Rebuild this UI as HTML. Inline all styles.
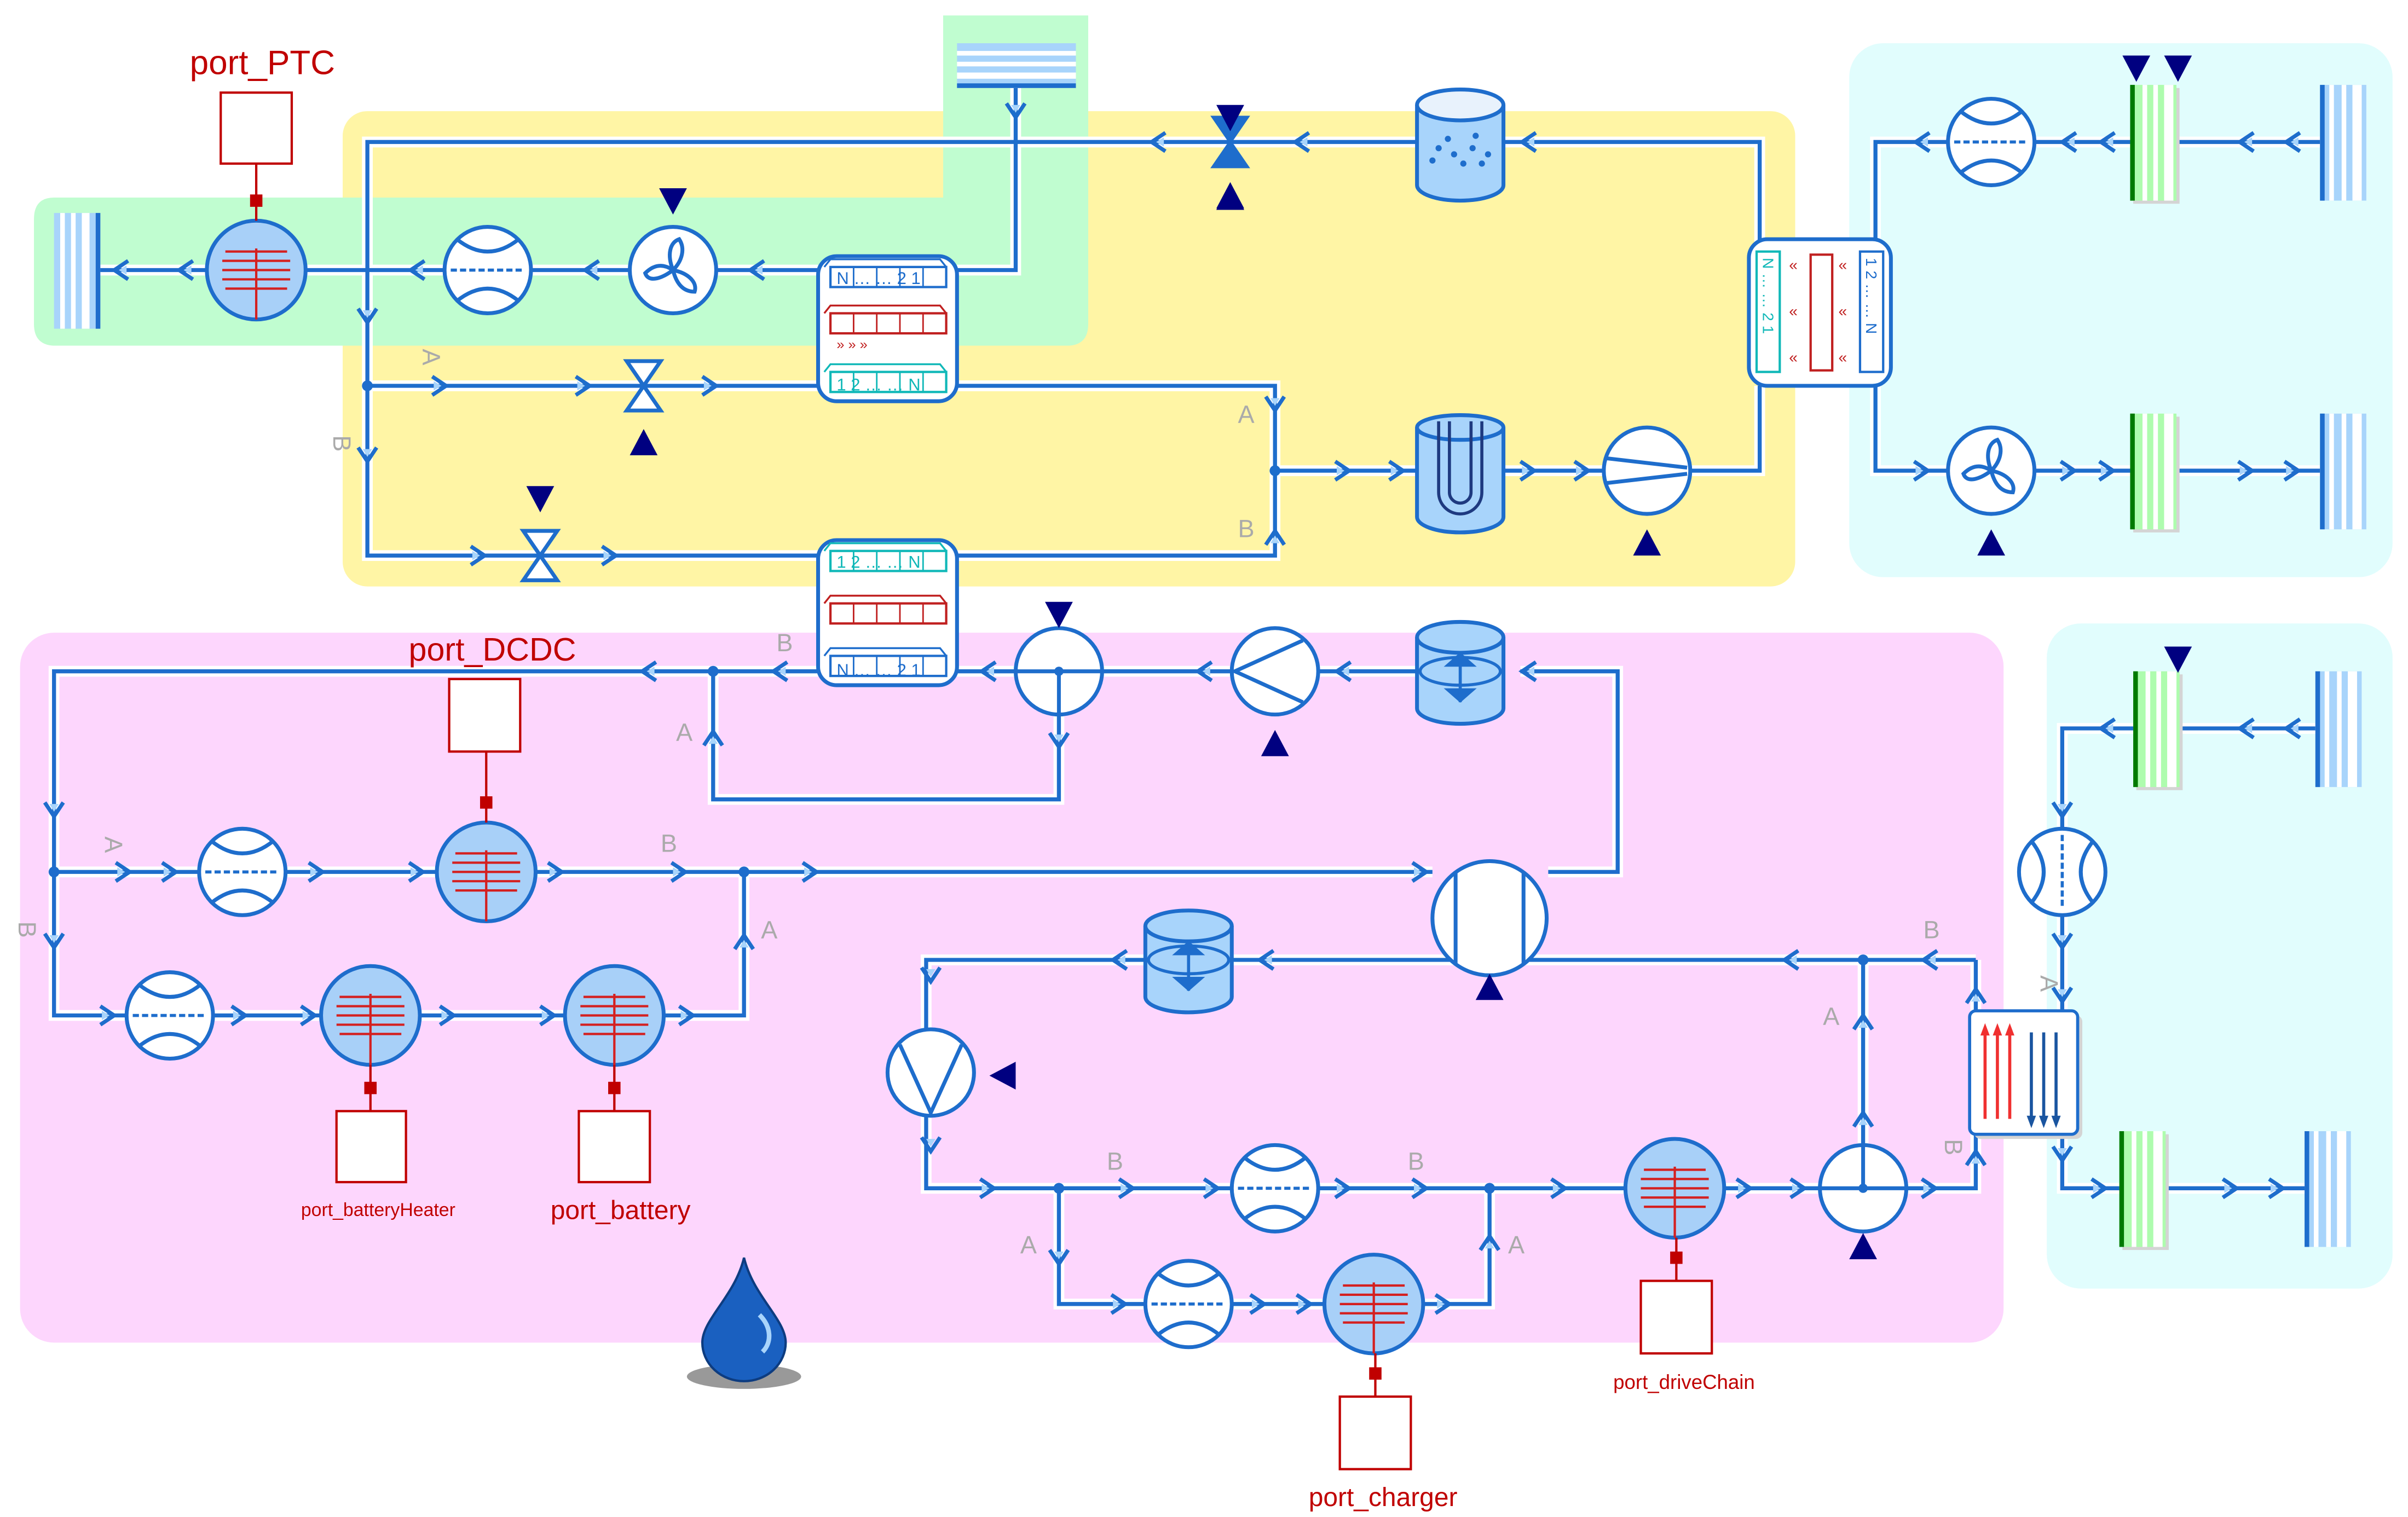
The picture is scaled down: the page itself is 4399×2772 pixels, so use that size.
<!DOCTYPE html>
<html><head><meta charset="utf-8"><style>
html,body{margin:0;padding:0;background:#fff}
svg{display:block}
text{font-family:"Liberation Sans",sans-serif}
.lab{fill:#aaa;font-size:16px}
.port{fill:#c00000}
</style></head><body>
<svg width="4399" height="2772" viewBox="0 0 1560 983" xmlns="http://www.w3.org/2000/svg">
<defs>
<g id="pipes" fill="none">
<path d="M1140,160 V92 H238 V360 H530"/>
<path d="M238,250 H530"/>
<path d="M620,250 H826 V360 H620"/>
<path d="M826,305 H1140 V250"/>
<path d="M530,175 H40"/>
<path d="M620,175 H658 V57"/>
<path d="M1215,160 V92 H1503"/>
<path d="M1215,250 V305 H1503"/>
<path d="M985,435 H1048 V565 H1003"/>
<path d="M928,565 H35 V658 H482 V565"/>
<path d="M530,435 H35 V565"/>
<path d="M462,435 V518 H686 V435"/>
<path d="M918,435 H620"/>
<path d="M1280,622 H600 V770 H1280 V735"/>
<path d="M686,770 V845 H965 V770"/>
<path d="M1207,770 V622"/>
<path d="M1280,622 V655"/>
<path d="M1500,472 H1336 V655"/>
<path d="M1336,735 V770 H1493"/>
</g>
<g id="ch"><path d="M-5,-6 L4,0 L-5,6" fill="none" stroke="#1e6dcc" stroke-width="2.5"/><path d="M-4,-3 L1,0 L-4,3" fill="#a8d4fb"/></g>
<g id="sensor"><circle r="28" fill="#fff" stroke="#1e6dcc" stroke-width="2.5"/><path d="M-20,-20 Q0,-4 20,-20 M-20,20 Q0,4 20,20" fill="none" stroke="#1e6dcc" stroke-width="2.5"/><line x1="-24" x2="24" stroke="#1e6dcc" stroke-width="2" stroke-dasharray="4,2"/></g>
<g id="heater"><circle r="32" fill="#a8d0f8" stroke="#1e6dcc" stroke-width="2.5"/><g stroke="#d42020" stroke-width="1.5"><line x1="-20" x2="20" y1="-12" y2="-12"/><line x1="-22" x2="22" y1="-6" y2="-6"/><line x1="-22" x2="22" y1="0" y2="0"/><line x1="-22" x2="22" y1="6" y2="6"/><line x1="-20" x2="20" y1="12" y2="12"/><line x1="0" x2="0" y1="-14" y2="32"/></g></g>
<g id="fan"><circle r="28" fill="#fff" stroke="#1e6dcc" stroke-width="2.5"/><g fill="none" stroke="#1e6dcc" stroke-width="2.5"><path d="M0,0 C-4,-10 -2,-18 4,-20 C8,-14 6,-6 0,0"/><path d="M0,0 C10,2 16,8 14,14 C6,14 2,8 0,0"/><path d="M0,0 C-8,6 -16,8 -18,2 C-12,-4 -6,-4 0,0"/></g></g>
<g id="tri"><path d="M-9,8 L9,8 L0,-9 Z" fill="#000080"/></g>
<g id="valve"><path d="M-11,-16 L11,-16 L-11,16 L11,16 Z" fill="#fff" stroke="#1e6dcc" stroke-width="2.5"/></g>
<g id="bndB"><rect x="0" y="0" width="30" height="75" fill="#a8d4fb"/><rect x="6" width="3" height="75" fill="#fff"/><rect x="14" width="3" height="75" fill="#fff"/><rect x="21" width="6" height="75" fill="#fff"/><rect width="3" height="75" fill="#1e6dcc"/></g>
<g id="bndG"><rect x="2" y="2" width="30" height="75" fill="#d4d4d4"/><rect width="30" height="75" fill="#aefcae"/><rect x="8" width="3" height="75" fill="#fff"/><rect x="15" width="3" height="75" fill="#fff"/><rect x="22" width="6" height="75" fill="#fff"/><rect width="3" height="75" fill="#007a00"/></g>
<g id="cells"><path d="M0,5 L4,0 H75 L79,5" fill="none" stroke-width="1.2"/><rect x="4" y="5" width="75" height="13" fill="#fff" stroke-width="1.5"/><path d="M19,5 V18 M34,5 V18 M49,5 V18 M64,5 V18"/></g>
</defs>

<!-- backgrounds -->
<rect x="222" y="72" width="941" height="308" rx="16" fill="#fff5a5"/>
<path d="M35,128 H611 V10 H705 V210 Q705,224 691,224 H36 Q22,224 22,210 V142 Q22,128 35,128Z" fill="#c0fdd0"/>
<rect x="1198" y="28" width="352" height="346" rx="22" fill="#e1fdfd"/>
<rect x="13" y="410" width="1285" height="460" rx="22" fill="#fdd6fd"/>
<rect x="1326" y="404" width="224" height="431" rx="22" fill="#e1fdfd"/>

<use href="#pipes" stroke="#fff" stroke-width="7"/>
<use href="#pipes" stroke="#1e6dcc" stroke-width="2.6"/>

<!-- junction dots -->
<g fill="#1e6dcc"><circle cx="238" cy="250" r="3.5"/><circle cx="826" cy="305" r="3.5"/><circle cx="462" cy="435" r="3.5"/><circle cx="35" cy="565" r="3.5"/><circle cx="482" cy="565" r="3.5"/><circle cx="686" cy="770" r="3.5"/><circle cx="965" cy="770" r="3.5"/><circle cx="1207" cy="622" r="3.5"/></g>

<!-- chevrons -->
<use href="#ch" transform="translate(990,92) rotate(180)"/>
<use href="#ch" transform="translate(843,92) rotate(180)"/>
<use href="#ch" transform="translate(750,92) rotate(180)"/>
<use href="#ch" transform="translate(658,72) rotate(90)"/>
<use href="#ch" transform="translate(238,205) rotate(90)"/>
<use href="#ch" transform="translate(238,295) rotate(90)"/>
<use href="#ch" transform="translate(285,250)"/>
<use href="#ch" transform="translate(378,250)"/>
<use href="#ch" transform="translate(460,250)"/>
<use href="#ch" transform="translate(310,360)"/>
<use href="#ch" transform="translate(395,360)"/>
<use href="#ch" transform="translate(826,262) rotate(90)"/>
<use href="#ch" transform="translate(826,348) rotate(-90)"/>
<use href="#ch" transform="translate(870,305)"/>
<use href="#ch" transform="translate(905,305)"/>
<use href="#ch" transform="translate(990,305)"/>
<use href="#ch" transform="translate(1025,305)"/>
<use href="#ch" transform="translate(490,175) rotate(180)"/>
<use href="#ch" transform="translate(383,175) rotate(180)"/>
<use href="#ch" transform="translate(270,175) rotate(180)"/>
<use href="#ch" transform="translate(120,175) rotate(180)"/>
<use href="#ch" transform="translate(78,175) rotate(180)"/>
<use href="#ch" transform="translate(1245,92) rotate(180)"/>
<use href="#ch" transform="translate(1340,92) rotate(180)"/>
<use href="#ch" transform="translate(1365,92) rotate(180)"/>
<use href="#ch" transform="translate(1455,92) rotate(180)"/>
<use href="#ch" transform="translate(1485,92) rotate(180)"/>
<use href="#ch" transform="translate(1245,305)"/>
<use href="#ch" transform="translate(1340,305)"/>
<use href="#ch" transform="translate(1365,305)"/>
<use href="#ch" transform="translate(1455,305)"/>
<use href="#ch" transform="translate(1485,305)"/>
<use href="#ch" transform="translate(990,435) rotate(180)"/>
<use href="#ch" transform="translate(870,435) rotate(180)"/>
<use href="#ch" transform="translate(780,435) rotate(180)"/>
<use href="#ch" transform="translate(640,435) rotate(180)"/>
<use href="#ch" transform="translate(505,435) rotate(180)"/>
<use href="#ch" transform="translate(420,435) rotate(180)"/>
<use href="#ch" transform="translate(686,480) rotate(90)"/>
<use href="#ch" transform="translate(462,478) rotate(-90)"/>
<use href="#ch" transform="translate(35,525) rotate(90)"/>
<use href="#ch" transform="translate(35,610) rotate(90)"/>
<use href="#ch" transform="translate(80,565)"/>
<use href="#ch" transform="translate(110,565)"/>
<use href="#ch" transform="translate(205,565)"/>
<use href="#ch" transform="translate(270,565)"/>
<use href="#ch" transform="translate(360,565)"/>
<use href="#ch" transform="translate(440,565)"/>
<use href="#ch" transform="translate(525,565)"/>
<use href="#ch" transform="translate(920,565)"/>
<use href="#ch" transform="translate(70,658)"/>
<use href="#ch" transform="translate(155,658)"/>
<use href="#ch" transform="translate(200,658)"/>
<use href="#ch" transform="translate(290,658)"/>
<use href="#ch" transform="translate(355,658)"/>
<use href="#ch" transform="translate(445,658)"/>
<use href="#ch" transform="translate(482,610) rotate(-90)"/>
<use href="#ch" transform="translate(1160,622) rotate(180)"/>
<use href="#ch" transform="translate(1250,622) rotate(180)"/>
<use href="#ch" transform="translate(820,622) rotate(180)"/>
<use href="#ch" transform="translate(725,622) rotate(180)"/>
<use href="#ch" transform="translate(603,632) rotate(90)"/>
<use href="#ch" transform="translate(603,742) rotate(90)"/>
<use href="#ch" transform="translate(640,770)"/>
<use href="#ch" transform="translate(730,770)"/>
<use href="#ch" transform="translate(785,770)"/>
<use href="#ch" transform="translate(870,770)"/>
<use href="#ch" transform="translate(920,770)"/>
<use href="#ch" transform="translate(1010,770)"/>
<use href="#ch" transform="translate(1130,770)"/>
<use href="#ch" transform="translate(1165,770)"/>
<use href="#ch" transform="translate(1250,770)"/>
<use href="#ch" transform="translate(686,815) rotate(90)"/>
<use href="#ch" transform="translate(725,845)"/>
<use href="#ch" transform="translate(815,845)"/>
<use href="#ch" transform="translate(845,845)"/>
<use href="#ch" transform="translate(935,845)"/>
<use href="#ch" transform="translate(965,805) rotate(-90)"/>
<use href="#ch" transform="translate(1207,725) rotate(-90)"/>
<use href="#ch" transform="translate(1207,662) rotate(-90)"/>
<use href="#ch" transform="translate(1280,645) rotate(-90)"/>
<use href="#ch" transform="translate(1280,750) rotate(-90)"/>
<use href="#ch" transform="translate(1485,472) rotate(180)"/>
<use href="#ch" transform="translate(1455,472) rotate(180)"/>
<use href="#ch" transform="translate(1365,472) rotate(180)"/>
<use href="#ch" transform="translate(1336,525) rotate(90)"/>
<use href="#ch" transform="translate(1336,610) rotate(90)"/>
<use href="#ch" transform="translate(1336,645) rotate(90)"/>
<use href="#ch" transform="translate(1336,748) rotate(90)"/>
<use href="#ch" transform="translate(1360,770)"/>
<use href="#ch" transform="translate(1445,770)"/>
<use href="#ch" transform="translate(1475,770)"/>

<!-- labels A/B -->
<text class="lab" x="272" y="236" transform="rotate(90 278 232)">A</text>
<text class="lab" x="214" y="292" transform="rotate(90 220 288)">B</text>
<text class="lab" x="802" y="274">A</text>
<text class="lab" x="802" y="348">B</text>
<text class="lab" x="503" y="422">B</text>
<text class="lab" x="438" y="480">A</text>
<text class="lab" x="66" y="552" transform="rotate(90 72 548)">A</text>
<text class="lab" x="10" y="607" transform="rotate(90 16 603)">B</text>
<text class="lab" x="428" y="552">B</text>
<text class="lab" x="493" y="608">A</text>
<text class="lab" x="1246" y="608">B</text>
<text class="lab" x="1181" y="664">A</text>
<text class="lab" x="717" y="758">B</text>
<text class="lab" x="912" y="758">B</text>
<text class="lab" x="661" y="812">A</text>
<text class="lab" x="977" y="812">A</text>
<text class="lab" x="1320" y="642" transform="rotate(90 1326 638)">A</text>
<text class="lab" x="1258" y="748" transform="rotate(90 1264 744)">B</text>

<!-- boundaries -->
<g transform="translate(35,138)"><rect width="30" height="75" fill="#a8d4fb"/><rect x="4" width="3" height="75" fill="#fff"/><rect x="11" width="3" height="75" fill="#fff"/><rect x="18" width="5" height="75" fill="#fff"/><rect x="27" width="3" height="75" fill="#1e6dcc"/></g>
<g transform="translate(620,28)"><rect width="77" height="29" fill="#a8d4fb"/><rect y="5" width="77" height="3" fill="#fff"/><rect y="12" width="77" height="3" fill="#fff"/><rect y="19" width="77" height="4" fill="#fff"/><rect y="26" width="77" height="3" fill="#1e6dcc"/></g>
<use href="#bndG" x="1380" y="55"/>
<use href="#bndB" x="1503" y="55"/>
<use href="#bndG" x="1380" y="268"/>
<use href="#bndB" x="1503" y="268"/>
<use href="#bndG" x="1382" y="435"/>
<use href="#bndB" x="1500" y="435"/>
<use href="#bndG" x="1373" y="733"/>
<use href="#bndB" x="1493" y="733"/>
<use href="#tri" transform="translate(1384,44) rotate(180)"/>
<use href="#tri" transform="translate(1411,44) rotate(180)"/>
<use href="#tri" transform="translate(1411,427) rotate(180)"/>

<!-- top components -->
<g transform="translate(946,92)"><path d="M-28,-24 V28 A28,10 0 0 0 28,28 V-24" fill="#a8d4fb" stroke="#1e6dcc" stroke-width="2.5"/><ellipse cy="-24" rx="28" ry="10" fill="#e8f2fc" stroke="#1e6dcc" stroke-width="2.5"/><g fill="#1e6dcc"><circle cx="-14" cy="4" r="2"/><circle cx="-4" cy="8" r="2"/><circle cx="8" cy="4" r="2"/><circle cx="18" cy="8" r="2"/><circle cx="-18" cy="12" r="2"/><circle cx="2" cy="14" r="2"/><circle cx="14" cy="14" r="2"/><circle cx="-8" cy="-2" r="2"/><circle cx="10" cy="-4" r="2"/></g></g>
<g transform="translate(797,92) rotate(90)"><path d="M-11,-16 L11,-16 L-11,16 L11,16 Z" transform="rotate(90)" fill="#1e6dcc" stroke="#1e6dcc" stroke-width="2"/></g>
<use href="#tri" transform="translate(797,128)"/>
<use href="#tri" transform="translate(797,128)"/>
<use href="#tri" transform="translate(797,128)"/>
<use href="#tri" transform="translate(797,127)"/>
<use href="#tri" transform="translate(797,76) rotate(180)"/>
<g transform="translate(417,250)"><path d="M-11,-16 L11,-16 L-11,16 L11,16 Z" fill="#fff" stroke="#1e6dcc" stroke-width="2.5"/></g>
<use href="#tri" transform="translate(417,287)"/>
<g transform="translate(350,360)"><path d="M-11,-16 L11,-16 L-11,16 L11,16 Z" fill="#fff" stroke="#1e6dcc" stroke-width="2.5"/></g>
<use href="#tri" transform="translate(350,323) rotate(180)"/>

<g transform="translate(946,307)"><path d="M-28,-30 V28 A28,10 0 0 0 28,28 V-30" fill="#a8d4fb" stroke="#1e6dcc" stroke-width="2.5"/><ellipse cy="-30" rx="28" ry="8" fill="#a8d4fb" stroke="#1e6dcc" stroke-width="2.5"/><path d="M-14,-34 V12 A14,14 0 0 0 14,12 V-34 M-7,-34 V12 A7,7 0 0 0 7,12 V-34" fill="none" stroke="#1e3a80" stroke-width="2"/></g>
<g transform="translate(1067,305)"><circle r="28" fill="#fff" stroke="#1e6dcc" stroke-width="2.5"/><path d="M-26,-8 L26,-2 M-26,8 L26,2" stroke="#1e6dcc" stroke-width="2.5" fill="none"/></g>
<use href="#tri" transform="translate(1067,352)"/>

<!-- HX top -->
<g transform="translate(530,166)"><rect width="90" height="94" rx="12" fill="#fff" stroke="#1e6dcc" stroke-width="2.5"/>
<g transform="translate(4,2)" stroke="#1e6dcc"><use href="#cells"/></g>
<text x="12" y="18" font-size="11" fill="#1e6dcc">N  …  …  2  1</text>
<text x="12" y="60" font-size="9" fill="#c02020">»   »   »</text>
<g transform="translate(4,32)" stroke="#c02020"><use href="#cells"/></g>
<g transform="translate(4,70)" stroke="#10b8b8"><use href="#cells"/></g>
<text x="12" y="87" font-size="11" fill="#10b8b8">1  2  …  …  N</text></g>
<g transform="translate(530,350)"><rect width="90" height="94" rx="12" fill="#fff" stroke="#1e6dcc" stroke-width="2.5"/>
<g transform="translate(4,2)" stroke="#10b8b8"><use href="#cells"/></g>
<text x="12" y="18" font-size="11" fill="#10b8b8">1  2  …  …  N</text>
<g transform="translate(4,36)" stroke="#c02020"><use href="#cells"/></g>
<g transform="translate(4,70)" stroke="#1e6dcc"><use href="#cells"/></g>
<text x="12" y="88" font-size="11" fill="#1e6dcc">N  …  …  2  1</text></g>
<g transform="translate(1133,155)"><rect width="92" height="95" rx="12" fill="#fff" stroke="#1e6dcc" stroke-width="2.5"/>
<rect x="5" y="8" width="15" height="78" fill="#fff" stroke="#10b8b8" stroke-width="1.5"/>
<rect x="40" y="10" width="14" height="75" fill="#fff" stroke="#c02020" stroke-width="1.5"/>
<rect x="72" y="8" width="15" height="78" fill="#fff" stroke="#1e6dcc" stroke-width="1.5"/>
<text font-size="10" fill="#c02020" x="26" y="20">«</text><text font-size="10" fill="#c02020" x="26" y="50">«</text><text font-size="10" fill="#c02020" x="26" y="80">«</text>
<text font-size="10" fill="#c02020" x="58" y="20">«</text><text font-size="10" fill="#c02020" x="58" y="50">«</text><text font-size="10" fill="#c02020" x="58" y="80">«</text>
<text font-size="10" fill="#10b8b8" transform="translate(9,12) rotate(90)">N … … 2 1</text>
<text font-size="10" fill="#1e6dcc" transform="translate(76,12) rotate(90)">1 2 … … N</text></g>

<use href="#heater" x="166" y="175"/>
<use href="#sensor" x="316" y="175"/>
<use href="#fan" x="436" y="175"/>
<use href="#tri" transform="translate(436,130) rotate(180)"/>
<use href="#sensor" x="1290" y="92"/>
<use href="#fan" x="1290" y="305"/>
<use href="#tri" transform="translate(1290,352)"/>

<!-- ports -->
<line x1="166" y1="106" x2="166" y2="143" stroke="#c00000" stroke-width="1.5"/>
<rect x="143" y="60" width="46" height="46" fill="#fff" stroke="#c00000" stroke-width="1.5"/>
<rect x="162" y="126" width="8" height="8" fill="#c00000"/>
<text class="port" x="170" y="48" font-size="22" text-anchor="middle">port_PTC</text>

<!-- pink components -->
<g transform="translate(946,435)"><path d="M-28,-22 V24 A28,10 0 0 0 28,24 V-22" fill="#a8d4fb" stroke="#1e6dcc" stroke-width="2.5"/><ellipse cy="-22" rx="28" ry="10" fill="#a8d4fb" stroke="#1e6dcc" stroke-width="2.5"/><ellipse cy="0" rx="26" ry="9" fill="none" stroke="#1e6dcc" stroke-width="2"/><path d="M0,-10 V20 M-8,-4 L0,-11 L8,-4 Z M-8,12 L0,19 L8,12 Z" stroke="#1e6dcc" stroke-width="2" fill="#1e6dcc"/></g>
<g transform="translate(770,622)"><path d="M-28,-22 V24 A28,10 0 0 0 28,24 V-22" fill="#a8d4fb" stroke="#1e6dcc" stroke-width="2.5"/><ellipse cy="-22" rx="28" ry="10" fill="#a8d4fb" stroke="#1e6dcc" stroke-width="2.5"/><ellipse cy="0" rx="26" ry="9" fill="none" stroke="#1e6dcc" stroke-width="2"/><path d="M0,-10 V20 M-8,-4 L0,-11 L8,-4 Z M-8,12 L0,19 L8,12 Z" stroke="#1e6dcc" stroke-width="2" fill="#1e6dcc"/></g>
<g transform="translate(826,435)"><circle r="28" fill="#fff" stroke="#1e6dcc" stroke-width="2.5"/><path d="M18,-20 L-26,0 L18,20" fill="none" stroke="#1e6dcc" stroke-width="2.5"/></g>
<use href="#tri" transform="translate(826,482)"/>
<g transform="translate(686,435)"><circle r="28" fill="#fff" stroke="#1e6dcc" stroke-width="2.5"/><path d="M-28,0 H28 M0,0 V28" stroke="#1e6dcc" stroke-width="2.5"/><circle r="3" fill="#1e6dcc"/></g>
<use href="#tri" transform="translate(686,398) rotate(180)"/>
<g transform="translate(965,595)"><circle r="37" fill="#fff" stroke="#1e6dcc" stroke-width="2.5"/><path d="M-22,-30 V30 M22,-30 V30" stroke="#1e6dcc" stroke-width="2.5"/></g>
<use href="#tri" transform="translate(965,640)"/>
<g transform="translate(603,695)"><circle r="28" fill="#fff" stroke="#1e6dcc" stroke-width="2.5"/><path d="M-20,-18 L0,26 L20,-18" fill="none" stroke="#1e6dcc" stroke-width="2.5"/></g>
<use href="#tri" transform="translate(650,697) rotate(-90)"/>
<g transform="translate(1207,770)"><circle r="28" fill="#fff" stroke="#1e6dcc" stroke-width="2.5"/><path d="M-28,0 H28 M0,0 V-28" stroke="#1e6dcc" stroke-width="2.5"/><circle r="3" fill="#1e6dcc"/></g>
<use href="#tri" transform="translate(1207,808)"/>
<g transform="translate(1276,655)"><rect x="3" y="3" width="70" height="80" rx="4" fill="#d4d4d4"/><rect width="70" height="80" rx="4" fill="#fff" stroke="#1e6dcc" stroke-width="2"/>
<g stroke="#f03030" stroke-width="2"><line x1="10" y1="14" x2="10" y2="70"/><line x1="18" y1="14" x2="18" y2="70"/><line x1="26" y1="14" x2="26" y2="70"/></g>
<g fill="#f03030"><path d="M7,16 L10,8 L13,16Z"/><path d="M15,16 L18,8 L21,16Z"/><path d="M23,16 L26,8 L29,16Z"/></g>
<g stroke="#1a55a0" stroke-width="2"><line x1="40" y1="14" x2="40" y2="70"/><line x1="48" y1="14" x2="48" y2="70"/><line x1="56" y1="14" x2="56" y2="70"/></g>
<g fill="#1a55a0"><path d="M37,68 L40,76 L43,68Z"/><path d="M45,68 L48,76 L51,68Z"/><path d="M53,68 L56,76 L59,68Z"/></g></g>
<g transform="translate(1336,565)"><circle r="28" fill="#fff" stroke="#1e6dcc" stroke-width="2.5"/><path d="M-20,-20 Q-4,0 -20,20 M20,-20 Q4,0 20,20" fill="none" stroke="#1e6dcc" stroke-width="2.5"/><line y1="-24" y2="24" stroke="#1e6dcc" stroke-width="2" stroke-dasharray="4,2"/></g>

<use href="#sensor" x="157" y="565"/>
<use href="#heater" x="315" y="565"/>
<use href="#sensor" x="110" y="658"/>
<use href="#heater" x="240" y="658"/>
<use href="#heater" x="398" y="658"/>
<use href="#sensor" x="826" y="770"/>
<use href="#heater" x="1085" y="770"/>
<use href="#sensor" x="770" y="845"/>
<use href="#heater" x="890" y="845"/>

<g stroke="#c00000" stroke-width="1.5">
<line x1="315" y1="487" x2="315" y2="533"/>
<line x1="240" y1="690" x2="240" y2="720"/>
<line x1="398" y1="690" x2="398" y2="720"/>
<line x1="1086" y1="802" x2="1086" y2="830"/>
<line x1="891" y1="877" x2="891" y2="905"/>
</g>
<g fill="#fff" stroke="#c00000" stroke-width="1.5">
<rect x="291" y="440" width="46" height="47"/>
<rect x="218" y="720" width="45" height="46"/>
<rect x="375" y="720" width="46" height="46"/>
<rect x="1063" y="830" width="46" height="47"/>
<rect x="868" y="905" width="46" height="47"/>
</g>
<g fill="#c00000"><rect x="311" y="516" width="8" height="8"/><rect x="236" y="701" width="8" height="8"/><rect x="394" y="701" width="8" height="8"/><rect x="1082" y="811" width="8" height="8"/><rect x="887" y="886" width="8" height="8"/></g>
<text class="port" x="319" y="428" font-size="21" text-anchor="middle">port_DCDC</text>
<text class="port" x="245" y="788" font-size="12" text-anchor="middle">port_batteryHeater</text>
<text class="port" x="402" y="790" font-size="17" text-anchor="middle">port_battery</text>
<text class="port" x="1091" y="900" font-size="13" text-anchor="middle">port_driveChain</text>
<text class="port" x="896" y="976" font-size="17" text-anchor="middle">port_charger</text>

<!-- drop -->
<ellipse cx="482" cy="892" rx="37" ry="8" fill="#999"/>
<path d="M482,815 C476,840 455,855 455,870 A27,25 0 0 0 509,870 C509,855 488,840 482,815Z" fill="#1a60c0" stroke="#0d3c80" stroke-width="1.5"/>
<path d="M492,852 C500,860 500,870 494,876" fill="none" stroke="#a8d4fb" stroke-width="3"/>
</svg>
</body></html>
